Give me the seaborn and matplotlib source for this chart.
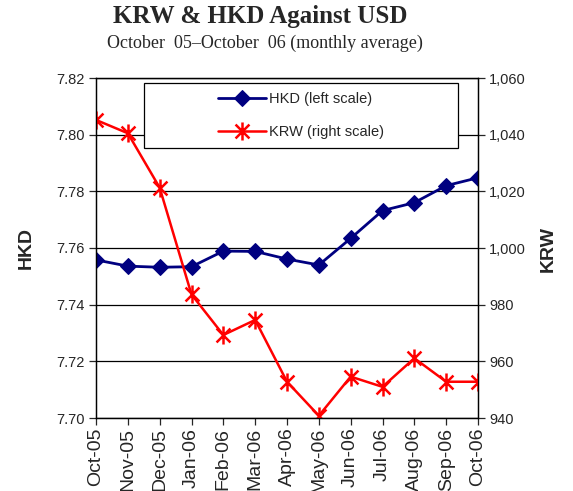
import matplotlib
matplotlib.use("Agg")
import matplotlib.pyplot as plt
import seaborn as sns
import pandas as pd
from matplotlib.path import Path
from matplotlib.patches import Rectangle
from matplotlib.ticker import FuncFormatter, MultipleLocator

months = ["Oct-05", "Nov-05", "Dec-05", "Jan-06", "Feb-06", "Mar-06", "Apr-06",
          "May-06", "Jun-06", "Jul-06", "Aug-06", "Sep-06", "Oct-06"]
hkd = [7.7558, 7.7536, 7.7532, 7.7534, 7.7589, 7.7588, 7.7561,
       7.7540, 7.7634, 7.7732, 7.7760, 7.7820, 7.7848]
krw = [1045.2, 1040.5, 1021.3, 983.6, 969.3, 974.6, 952.8,
       940.8, 954.6, 951.0, 961.1, 952.8, 952.8]

df = pd.DataFrame({"month": months, "HKD": hkd, "KRW": krw})
df["pos"] = range(len(df))

sns.set_style("white")
plt.rcParams["font.family"] = ["Liberation Sans", "DejaVu Sans"]

# Excel-style star marker: X with a vertical bar
star = Path([(-1, -1), (1, 1), (-1, 1), (1, -1), (0, -1.3), (0, 1.3)],
            [Path.MOVETO, Path.LINETO, Path.MOVETO, Path.LINETO, Path.MOVETO, Path.LINETO])

fig = plt.figure(figsize=(5.73, 4.91), dpi=100)
ax = fig.add_axes([96 / 573, 73 / 491, 382 / 573, 340 / 491])
ax2 = ax.twinx()

sns.lineplot(data=df, x="pos", y="HKD", ax=ax, color="#000080", linewidth=2,
             marker="D", markersize=8, markeredgecolor="#000080",
             label="HKD (left scale)", legend=False)
sns.lineplot(data=df, x="pos", y="KRW", ax=ax2, color="#FF0000", linewidth=1.8,
             marker=star, markersize=13, markeredgecolor="#FF0000",
             markeredgewidth=1.8, markerfacecolor="none",
             label="KRW (right scale)", legend=False)

ax.set_xlim(0, len(months) - 1)
ax.set_ylim(7.70, 7.82)
ax.yaxis.set_major_locator(MultipleLocator(0.02))
ax.yaxis.set_major_formatter(FuncFormatter(lambda v, p: f"{v:.2f}"))
ax2.set_ylim(940, 1060)
ax2.yaxis.set_major_locator(MultipleLocator(20))
ax2.yaxis.set_major_formatter(FuncFormatter(lambda v, p: f"{v:,.0f}"))

ax.set_xticks(df["pos"])
ax.set_xticklabels(months, rotation=90, fontsize=14)
ax.set_xlabel("")
ax.set_ylabel("")
ax2.set_ylabel("")

ax.grid(axis="y", color="black", linewidth=0.9)
ax.grid(axis="x", visible=False)
for a in (ax, ax2):
    for s in a.spines.values():
        s.set_color("black")
        s.set_linewidth(0.9)
ax.tick_params(axis="y", direction="out", length=5, width=0.9, labelsize=10.5, pad=3, left=True)
ax.tick_params(axis="x", direction="out", length=5, width=0.9, pad=2, bottom=True)
ax2.tick_params(axis="y", direction="out", length=5, width=0.9, labelsize=10.5, pad=3, right=True)

# legend box
box = Rectangle((0.126, 0.794), 0.822, 0.191, transform=ax2.transAxes,
                facecolor="white", edgecolor="black", linewidth=0.9, zorder=4)
ax2.add_patch(box)
h1, l1 = ax.get_legend_handles_labels()
h2, l2 = ax2.get_legend_handles_labels()
leg = ax2.legend(h1 + h2, l1 + l2, loc="center", bbox_to_anchor=(0.537, 0.889),
                 frameon=False, fontsize=10.5, handlelength=3.3, handletextpad=0.2,
                 labelspacing=1.3, borderpad=0)
leg.set_zorder(5)

fig.text(26 / 573, 1 - 248 / 491, "HKD", rotation=90, ha="center", va="center",
         fontsize=14, fontweight="bold")
fig.text(548 / 573, 1 - 249 / 491, "KRW", rotation=90, ha="center", va="center",
         fontsize=14, fontweight="bold")

fig.text(260 / 573, 1 - 16 / 491, "KRW & HKD Against USD", ha="center", va="center",
         family="Liberation Serif", fontsize=18, fontweight="bold")
fig.text(265 / 573, 1 - 43 / 491, "October  05\u2013October  06 (monthly average)",
         ha="center", va="center", family="Liberation Serif", fontsize=13)

fig.savefig("out.png", dpi=100)
